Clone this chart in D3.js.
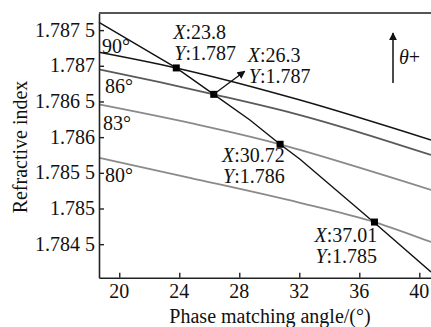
<!DOCTYPE html>
<html>
<head>
<meta charset="utf-8">
<script src="https://cdn.jsdelivr.net/npm/d3@7"></script>
<style>
  html, body { margin: 0; padding: 0; background: #fff; }
</style>
</head>
<body>
<svg id="chart" width="431" height="327"></svg>
<script>
// ticks
const xTicks = [20, 24, 28, 32, 36, 40];
const yTicks = [1.7845, 1.785, 1.7855, 1.786, 1.7865, 1.787, 1.7875];
const yTickLabels = ["1.784 5", "1.785", "1.785 5", "1.786", "1.786 5", "1.787", "1.787 5"];

// refractive index curves for each theta
const theta90X = [18.65, 23.8, 26.38, 32.05, 40.78];
const theta90Y = [1.78719, 1.78697, 1.78684, 1.78652, 1.78596];
const theta86X = [18.65, 22.7, 26.3, 32.05, 40.78];
const theta86Y = [1.78695, 1.78677, 1.78660, 1.78631, 1.78575];
const theta83X = [18.65, 24.71, 30.72, 32.05, 40.78];
const theta83Y = [1.78646, 1.78620, 1.78590, 1.78582, 1.78526];
const theta80X = [18.65, 24.71, 32.05, 37.01, 40.78];
const theta80Y = [1.78571, 1.78543, 1.78508, 1.78481, 1.78453];

// crossing line through the matching points
const crossX = [18.65, 23.8, 26.3, 28.71, 30.72, 32.05, 37.01, 40.78];
const crossY = [1.78761, 1.78697, 1.78660, 1.78624, 1.78590, 1.78569, 1.78480, 1.78411];

// matching points
const pointX = [23.8, 26.3, 30.72, 37.01];
const pointY = [1.78697, 1.78660, 1.78590, 1.78481];
const pointXLabels = ["23.8", "26.3", "30.72", "37.01"];
const pointYLabels = ["1.787", "1.787", "1.786", "1.785"];

const thetaLabels = ["90°", "86°", "83°", "80°"];

const width = 431;
const height = 327;
const margin = { top: 13, right: 0, bottom: 49.3, left: 99 };
const fontFamily = '"Liberation Serif"';
const fontSize = 20;

const svg = d3.select("#chart");

const defs = svg.append("defs");
defs
  .append("marker")
  .attr("id", "arrow")
  .attr("viewBox", "0 0 10 10")
  .attr("refX", 9)
  .attr("refY", 5)
  .attr("markerWidth", 8)
  .attr("markerHeight", 8)
  .attr("markerUnits", "userSpaceOnUse")
  .attr("orient", "auto")
  .append("path")
  .attr("d", "M0,0 L10,5 L0,10 Z")
  .attr("fill", "#111");

const x = d3
  .scaleLinear()
  .domain([18.65, 40.78])
  .range([margin.left, width - margin.right]);

const y = d3
  .scaleLinear()
  .domain([1.78403, 1.78774])
  .range([height - margin.bottom, margin.top]);

const line = d3
  .line()
  .x((d) => x(d[0]))
  .y((d) => y(d[1]))
  .curve(d3.curveMonotoneX);

const curves = [
  { xs: theta90X, ys: theta90Y, color: "#151515", w: 1.5 },
  { xs: theta86X, ys: theta86Y, color: "#5a5a5a", w: 1.8 },
  { xs: theta83X, ys: theta83Y, color: "#8a8a8a", w: 1.8 },
  { xs: theta80X, ys: theta80Y, color: "#8a8a8a", w: 1.8 },
];

svg
  .selectAll("path.curve")
  .data(curves)
  .enter()
  .append("path")
  .attr("class", "curve")
  .attr("d", (c) => line(d3.zip(c.xs, c.ys)))
  .attr("fill", "none")
  .attr("stroke", (c) => c.color)
  .attr("stroke-width", (c) => c.w);

svg
  .append("path")
  .attr("d", line.curve(d3.curveLinear)(d3.zip(crossX, crossY)))
  .attr("fill", "none")
  .attr("stroke", "#111")
  .attr("stroke-width", 1.4);

svg
  .selectAll("rect.point")
  .data(d3.zip(pointX, pointY))
  .enter()
  .append("rect")
  .attr("class", "point")
  .attr("x", (d) => x(d[0]) - 3.5)
  .attr("y", (d) => y(d[1]) - 3.5)
  .attr("width", 7)
  .attr("height", 7)
  .attr("fill", "#000");

// text helper (no transforms on text: they lose the serif font)
function label(px, py, parts, anchor) {
  const t = svg
    .append("text")
    .attr("x", px)
    .attr("y", py)
    .style("font-family", fontFamily)
    .attr("font-size", fontSize)
    .attr("fill", "#111")
    .attr("text-anchor", anchor || "start");
  parts.forEach((p) => {
    const s = t.append("tspan").text(p.text);
    if (p.italic) s.attr("font-style", "italic");
  });
  return t;
}

// point annotations
const notes = [
  { dx: -3, dy: -29 },
  { dx: 34, dy: -32 },
  { dx: -58, dy: 18 },
  { dx: -60, dy: 20 },
];
notes.forEach((n, i) => {
  const px = x(pointX[i]) + n.dx;
  const py = y(pointY[i]) + n.dy;
  label(px, py, [{ text: "X", italic: true }, { text: ":" + pointXLabels[i] }]);
  label(px + 1, py + 21, [{ text: "Y", italic: true }, { text: ":" + pointYLabels[i] }]);
});

// arrow from the 26.3 point to its label
svg
  .append("line")
  .attr("x1", x(pointX[1]))
  .attr("y1", y(pointY[1]))
  .attr("x2", x(pointX[1]) + 31)
  .attr("y2", y(pointY[1]) - 23)
  .attr("stroke", "#111")
  .attr("stroke-width", 1.3)
  .attr("marker-end", "url(#arrow)");

// theta labels at the left edge
const thetaPos = [
  [102, 53],
  [105, 93],
  [103, 130],
  [105, 182],
];
thetaLabels.forEach((t, i) => {
  label(thetaPos[i][0], thetaPos[i][1], [{ text: t }]);
});

// theta+ arrow
svg
  .append("line")
  .attr("x1", 393)
  .attr("y1", 83)
  .attr("x2", 393)
  .attr("y2", 33)
  .attr("stroke", "#111")
  .attr("stroke-width", 1.5)
  .attr("marker-end", "url(#arrow)");
label(399, 64, [{ text: "θ", italic: true }, { text: "+" }]);

// axes (lines from d3.axis, labels placed with the same scales)
const xAxis = svg
  .append("g")
  .attr("transform", `translate(0,${height - margin.bottom})`)
  .call(
    d3.axisBottom(x).tickValues(xTicks).tickSizeInner(-5).tickSizeOuter(0).tickFormat("")
  );

const yAxis = svg
  .append("g")
  .attr("transform", `translate(${margin.left},0)`)
  .call(
    d3.axisLeft(y).tickValues(yTicks).tickSizeInner(-5).tickSizeOuter(0).tickFormat("")
  );

[xAxis, yAxis].forEach((a) => {
  a.select(".domain").attr("stroke", "#222").attr("stroke-width", 1.6);
  a.selectAll(".tick line").attr("stroke", "#222").attr("stroke-width", 1.4);
  a.selectAll(".tick text").remove();
});

xTicks.forEach((v) => label(x(v), 298, [{ text: String(v) }], "middle"));
yTicks.forEach((v, i) => label(95, y(v) + 6.5, [{ text: yTickLabels[i] }], "end"));

// top frame line
svg
  .append("line")
  .attr("x1", margin.left)
  .attr("x2", width)
  .attr("y1", margin.top)
  .attr("y2", margin.top)
  .attr("stroke", "#555")
  .attr("stroke-width", 2);

// axis titles
label(270, 323, [{ text: "Phase matching angle/(°)" }], "middle");

svg
  .append("g")
  .attr("transform", "translate(27,147) rotate(-90)")
  .append("text")
  .attr("text-anchor", "middle")
  .style("font-family", fontFamily)
  .attr("font-size", 20)
  .attr("fill", "#111")
  .text("Refractive index");
</script>
</body>
</html>
